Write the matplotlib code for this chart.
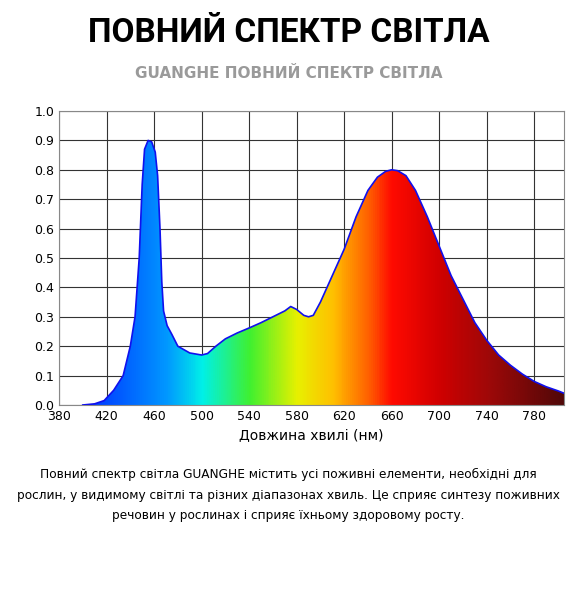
import numpy as np
import matplotlib.pyplot as plt
from matplotlib.colors import LinearSegmentedColormap
from matplotlib.patches import Polygon

# spectrum
wl = [400, 410, 418, 426, 434, 440, 444, 447.5, 450, 452, 455, 458, 461, 463, 465, 466.5, 468, 471,
      475, 480, 490, 500, 505, 512, 520, 530, 540, 550, 560, 570, 575, 580, 586, 590, 594,
      600, 610, 620, 630, 640, 648, 655, 660, 665, 672, 680, 690, 700, 710, 720, 730, 740,
      750, 760, 770, 780, 790, 800, 805]
rel = [0.0, 0.004, 0.015, 0.05, 0.1, 0.2, 0.3, 0.5, 0.75, 0.87, 0.9, 0.895, 0.86, 0.78, 0.6, 0.42, 0.32, 0.27,
       0.24, 0.2, 0.177, 0.17, 0.175, 0.2, 0.225, 0.245, 0.262, 0.28, 0.3, 0.32, 0.335, 0.325, 0.305, 0.3, 0.305,
       0.35, 0.44, 0.53, 0.64, 0.73, 0.775, 0.795, 0.8, 0.797, 0.78, 0.73, 0.64, 0.54, 0.44, 0.36, 0.28, 0.22,
       0.17, 0.135, 0.105, 0.08, 0.062, 0.048, 0.04]
xticks = list(range(380, 781, 40))
yticks = [round(0.1 * i, 1) for i in range(11)]

spec_pos = [400, 430, 470, 500, 540, 580, 610, 640, 660, 700, 740, 805]
spec_col = ['#0033ff', '#005aff', '#0098ff', '#00f0e8', '#40f030', '#e8f000', '#ffc000',
            '#ff6000', '#ff0a00', '#d00000', '#a00808', '#500808']

fig = plt.figure(figsize=(5.77, 6), dpi=100)
fig.text(0.5, 0.945, 'ПОВНИЙ СПЕКТР СВІТЛА', ha='center', va='center',
         fontsize=24, fontweight='bold', family='Roboto')
fig.text(0.5, 0.878, 'GUANGHE ПОВНИЙ СПЕКТР СВІТЛА', ha='center', va='center',
         fontsize=11, color='#9a9a9a', fontweight='bold')

ax = fig.add_axes([59 / 577, 1 - 405 / 600, (564 - 59) / 577, (405 - 111) / 600])
ax.set_xlim(380, 805)
ax.set_ylim(0, 1.0)
ax.set_xticks(xticks)
ax.set_yticks(yticks)
ax.set_yticklabels(['%.1f' % v for v in yticks])
ax.grid(True, color='#333333', linewidth=0.8)
ax.tick_params(length=0, labelsize=9)
for s in ax.spines.values():
    s.set_color('#888888')

cmap = LinearSegmentedColormap.from_list(
    'spec', [((p - 400) / 405, c) for p, c in zip(spec_pos, spec_col)])
grad = np.linspace(0, 1, 500)[None, :]
im = ax.imshow(grad, cmap=cmap, extent=[400, 805, 0, 1], aspect='auto', zorder=2)
poly = Polygon(list(zip(wl, rel)) + [(805, 0), (400, 0)], closed=True, transform=ax.transData)
im.set_clip_path(poly)
ax.plot(wl, rel, color='#1010ee', linewidth=1.2, zorder=3)

ax.set_xlabel('Довжина хвилі (нм)', fontsize=10)

fig.text(0.5, 0.175, 'Повний спектр світла GUANGHE містить усі поживні елементи, необхідні для\n'
         'рослин, у видимому світлі та різних діапазонах хвиль. Це сприяє синтезу поживних\n'
         'речовин у рослинах і сприяє їхньому здоровому росту.',
         ha='center', va='center', fontsize=8.7, linespacing=1.75)

fig.savefig('out.png', dpi=100)
